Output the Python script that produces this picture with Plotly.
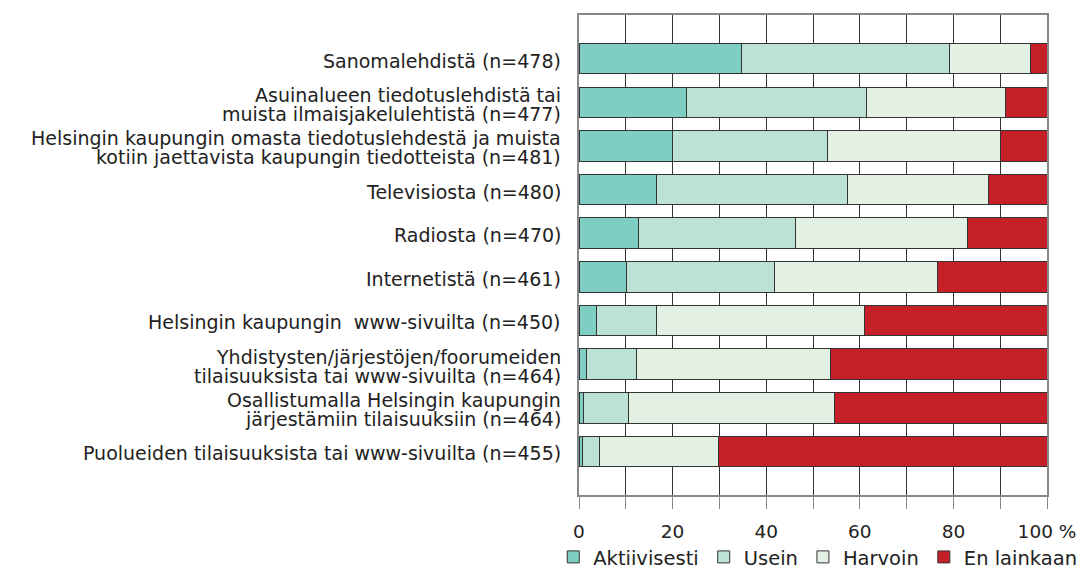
import plotly.graph_objects as go

categories = [
    "Sanomalehdistä (n=478)",
    "Asuinalueen tiedotuslehdistä tai<br>muista ilmaisjakelulehtistä (n=477)",
    "Helsingin kaupungin omasta tiedotuslehdestä ja muista<br>kotiin jaettavista kaupungin tiedotteista (n=481)",
    "Televisiosta (n=480)",
    "Radiosta (n=470)",
    "Internetistä (n=461)",
    "Helsingin kaupungin \u00a0www-sivuilta (n=450)",
    "Yhdistysten/järjestöjen/foorumeiden<br>tilaisuuksista tai www-sivuilta (n=464)",
    "Osallistumalla Helsingin kaupungin<br>järjestämiin tilaisuuksiin (n=464)",
    "Puolueiden tilaisuuksista tai www-sivuilta (n=455)",
]

series_names = ["Aktiivisesti", "Usein", "Harvoin", "En lainkaan"]
aktiivisesti = [34.7, 22.9, 20.0, 16.5, 12.7, 10.2, 3.8, 1.7, 0.9, 0.7]
usein = [44.4, 38.6, 33.2, 40.9, 33.5, 31.5, 12.7, 10.5, 9.6, 3.7]
harvoin = [17.3, 29.6, 36.8, 30.2, 36.9, 34.9, 44.5, 41.6, 44.1, 25.4]
en_lainkaan = [3.6, 8.9, 10.0, 12.4, 16.9, 23.4, 39.0, 46.2, 45.4, 70.2]

tick_vals = [0, 10, 20, 30, 40, 50, 60, 70, 80, 90, 100]
tick_text = ["0", "", "20", "", "40", "", "60", "", "80", "", "100 %"]

colors = ["#7ECEC4", "#BCE2D5", "#E3F1E5", "#C52027"]
values = [aktiivisesti, usein, harvoin, en_lainkaan]

FONT = "DejaVu Sans"
TXT = "#222222"
LABEL_SIZE = 19
LINE_GAP = 19

fig = go.Figure()
for name, vals, col in zip(series_names, values, colors):
    fig.add_trace(go.Bar(
        y=categories, x=vals, name=name, orientation="h",
        marker=dict(color=col, line=dict(color="#333333", width=1)),
        width=0.7,
    ))

# category labels, one annotation per line to keep the tight line spacing
for cat in categories:
    lines = cat.split("<br>")
    n = len(lines)
    for i, line in enumerate(lines):
        off = ((n - 1) / 2 - i) * LINE_GAP
        fig.add_annotation(
            text=line, x=0, xref="paper", y=cat, yref="y",
            xanchor="right", yanchor="middle", xshift=-16, yshift=off - 2,
            showarrow=False, font=dict(family=FONT, size=LABEL_SIZE, color=TXT),
        )

# page body has an 8px margin: size/margins compensate so the plot sits at 579..1047, 15..495
fig.update_layout(
    barmode="stack",
    width=1081, height=562,
    margin=dict(l=571, r=42, t=7, b=75, autoexpand=False),
    plot_bgcolor="white", paper_bgcolor="white",
    font=dict(family=FONT, size=18, color=TXT),
    showlegend=True,
    legend=dict(
        orientation="h", x=-0.055, xanchor="left", y=-0.089, yanchor="top",
        font=dict(family=FONT, size=19.5, color=TXT),
        traceorder="normal", itemwidth=30, tracegroupgap=0,
    ),
    xaxis=dict(
        range=[0, 100], tickvals=tick_vals, ticktext=tick_text,
        showgrid=True, gridcolor="#333333", gridwidth=1,
        showline=True, linecolor="#888888", linewidth=2, mirror=True,
        ticks="outside", ticklen=12, tickcolor="#888888", tickwidth=1,
        zeroline=False, tickfont=dict(size=18.5), automargin=False,
        ticklabelstandoff=7,
    ),
    yaxis=dict(
        categoryorder="array", categoryarray=categories,
        range=[10, -1], showticklabels=False,
        showline=True, linecolor="#888888", linewidth=2, mirror=True,
        ticks="", showgrid=False, automargin=False,
    ),
)

fig.write_html("out.html")
